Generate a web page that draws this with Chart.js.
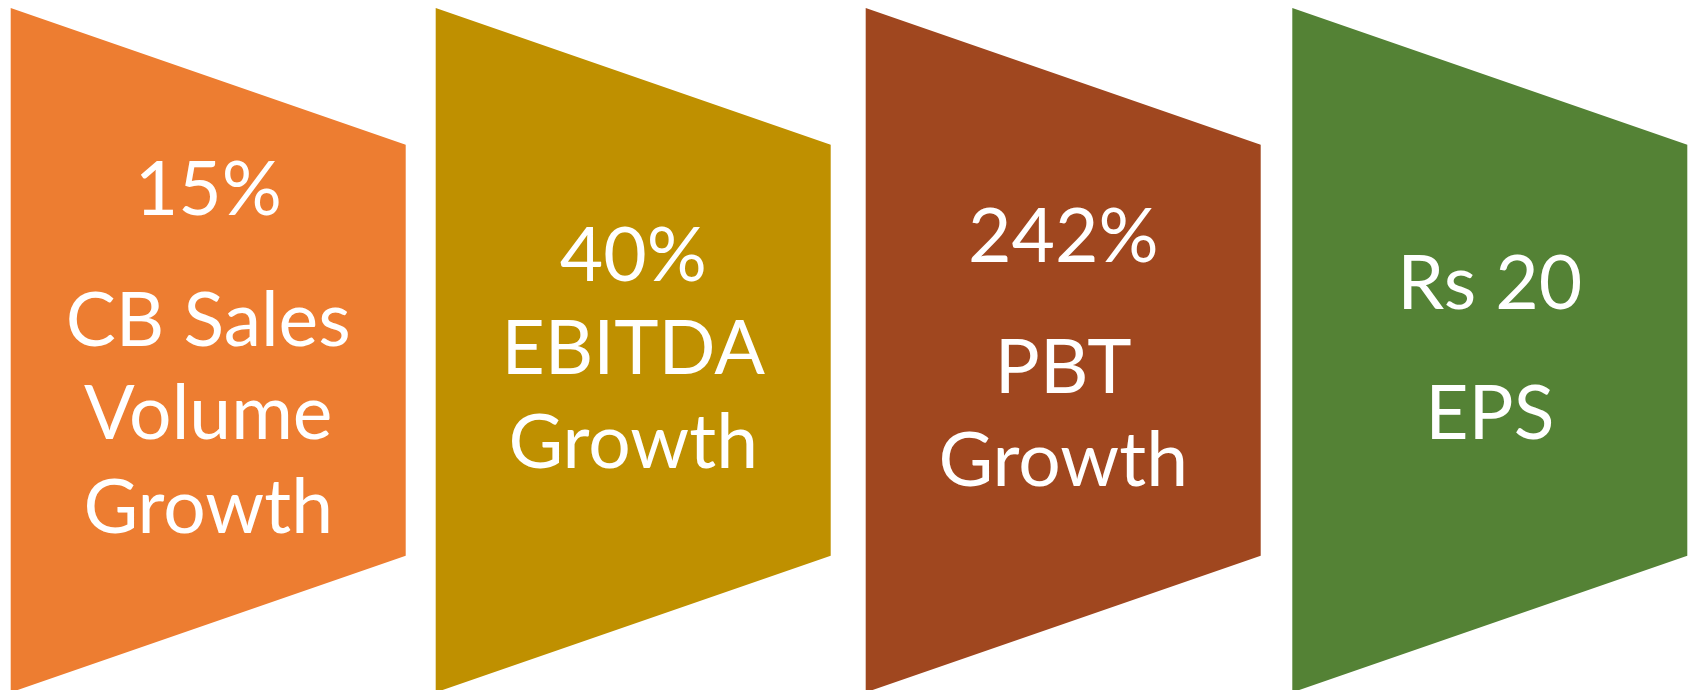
<!DOCTYPE html>
<html>
<head>
<meta charset="utf-8">
<script src="https://cdn.jsdelivr.net/npm/chart.js@4.4.1/dist/chart.umd.min.js"></script>
<style>
  html, body { margin: 0; padding: 0; background: #fff; overflow: hidden; }
</style>
</head>
<body>
<canvas id="chart" width="1689" height="690"></canvas>
<script>
// ---------------------------------------------------------------------------
// Data
// ---------------------------------------------------------------------------

const headlines = ['15%', '40%', '242%', 'Rs 20'];
const captions = [
  ['CB Sales', 'Volume', 'Growth'],
  ['EBITDA', 'Growth'],
  ['PBT', 'Growth'],
  ['EPS'],
];
const headlineGap = [true, false, true, true];
const panelColors = ['#ED7D31', '#BF9000', '#A0471F', '#548235'];

// panel outline, in the same units as the (hidden) axes
const panelLeft = [10.7, 435.7, 865.7, 1292.3];
const panelWidth = 395;
const panelTop = 8;
const panelBottom = 692.4;
const shoulder = 136.7;

// text layout
const FONT = '75px Lato, "Open Sans", sans-serif';
const CAP = 54;
const PITCH = 93.5;
const GAP = 37;
const TEXT_MID = 347;

function outline(i) {
  const l = panelLeft[i], r = l + panelWidth;
  return [
    { x: l, y: panelTop },
    { x: r, y: panelTop + shoulder },
    { x: r, y: panelBottom - shoulder },
    { x: l, y: panelBottom },
    { x: l, y: panelTop },
  ];
}

const labelPlugin = {
  id: 'panelLabels',
  afterDatasetsDraw(chart) {
    const ctx = chart.ctx;
    const xs = chart.scales.x, ys = chart.scales.y;
    ctx.save();
    ctx.font = FONT;
    ctx.fillStyle = '#fff';
    ctx.textAlign = 'center';
    ctx.textBaseline = 'alphabetic';
    headlines.forEach((h, i) => {
      const lines = [h].concat(captions[i]);
      const offs = [0];
      for (let k = 1; k < lines.length; k++) {
        offs.push(offs[k - 1] + PITCH + (k === 1 && headlineGap[i] ? GAP : 0));
      }
      const span = offs[offs.length - 1] + CAP;
      const first = TEXT_MID - span / 2 + CAP;
      const cx = xs.getPixelForValue(panelLeft[i] + panelWidth / 2);
      lines.forEach((t, k) => {
        ctx.fillText(t, cx, ys.getPixelForValue(first + offs[k]));
      });
    });
    ctx.restore();
  }
};

new Chart(document.getElementById('chart'), {
  type: 'scatter',
  data: {
    datasets: headlines.map((h, i) => ({
      label: h,
      data: outline(i),
      showLine: true,
      fill: 'shape',
      backgroundColor: panelColors[i],
      borderColor: panelColors[i],
      borderWidth: 0,
      pointRadius: 0,
      tension: 0,
    }))
  },
  options: {
    responsive: false,
    animation: false,
    layout: { padding: 0 },
    plugins: { legend: { display: false }, tooltip: { enabled: false } },
    scales: {
      x: { type: 'linear', min: 0, max: 1689, display: false },
      y: { type: 'linear', min: 0, max: 690, reverse: true, display: false },
    }
  },
  plugins: [labelPlugin]
});
</script>
</body>
</html>
